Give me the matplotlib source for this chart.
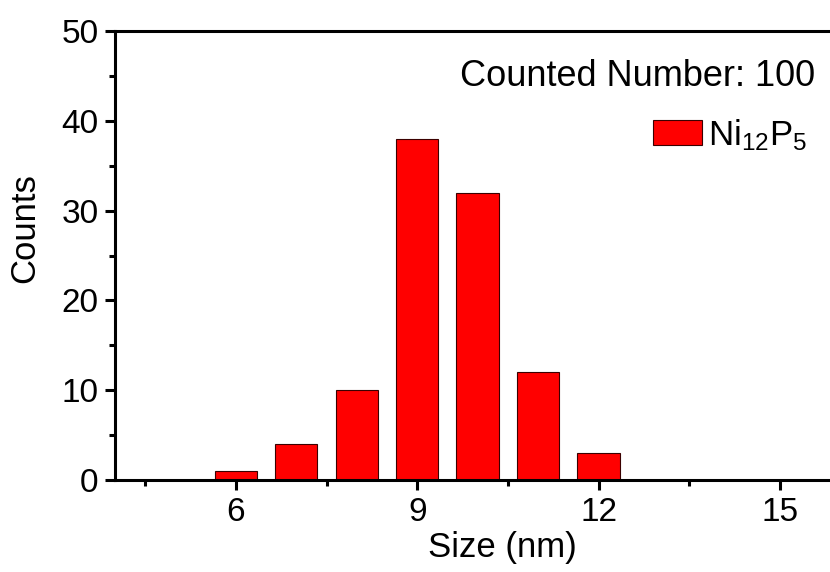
import matplotlib
matplotlib.use("Agg")
import matplotlib.pyplot as plt
from matplotlib.ticker import MultipleLocator

sizes = [6, 7, 8, 9, 10, 11, 12]
counts = [1, 4, 10, 38, 32, 12, 3]
series_label = r"Ni$_{12}$P$_5$"
note = "Counted Number: 100"

plt.rcParams['font.family'] = ['Liberation Sans', 'DejaVu Sans']
plt.rcParams['mathtext.fontset'] = 'custom'
plt.rcParams['mathtext.rm'] = 'Liberation Sans'
plt.rcParams['mathtext.it'] = 'Liberation Sans'

W, H = 830, 572
fig = plt.figure(figsize=(W / 100, H / 100), dpi=100)
ax = fig.add_axes([115 / W, (H - 480) / H, 715 / W, (480 - 31) / H])

ax.bar(sizes, counts, width=0.7, color='#ff0000', edgecolor='#3a0000',
       linewidth=0.8, label=series_label, zorder=2)

ax.set_xlim(4.0, 15.83)
ax.set_ylim(0, 50)
ax.xaxis.set_major_locator(MultipleLocator(3))
ax.xaxis.set_minor_locator(MultipleLocator(1.5))
ax.yaxis.set_major_locator(MultipleLocator(10))
ax.yaxis.set_minor_locator(MultipleLocator(5))

for s in ['left', 'bottom', 'top']:
    ax.spines[s].set_linewidth(2.2)
ax.spines['right'].set_visible(False)

ax.tick_params(axis='both', which='major', direction='out', length=7, width=2.2,
               labelsize=24, pad=5)
ax.tick_params(axis='both', which='minor', direction='out', length=4, width=2.2)
ax.tick_params(top=False, right=False, which='both')

ax.set_xlabel("Size (nm)", fontsize=25)
ax.set_ylabel("Counts", fontsize=25)
ax.xaxis.set_label_coords((502 - 115) / 715, (480 - 547) / 449)
ax.yaxis.set_label_coords((25 - 115) / 715, (480 - 228) / 449)
ax.xaxis.label.set_va('center')
ax.yaxis.label.set_va('center')

fig.text(815 / W, 1 - 77 / H, note, fontsize=26, ha='right', va='center')

leg = ax.legend(loc='upper left', bbox_to_anchor=(653 / W, 1 - 117 / H),
                bbox_transform=fig.transFigure, frameon=False, fontsize=25,
                handlelength=1.41, handleheight=0.72, handletextpad=0.17,
                borderpad=0, borderaxespad=0)

fig.savefig("out.png", dpi=100)
